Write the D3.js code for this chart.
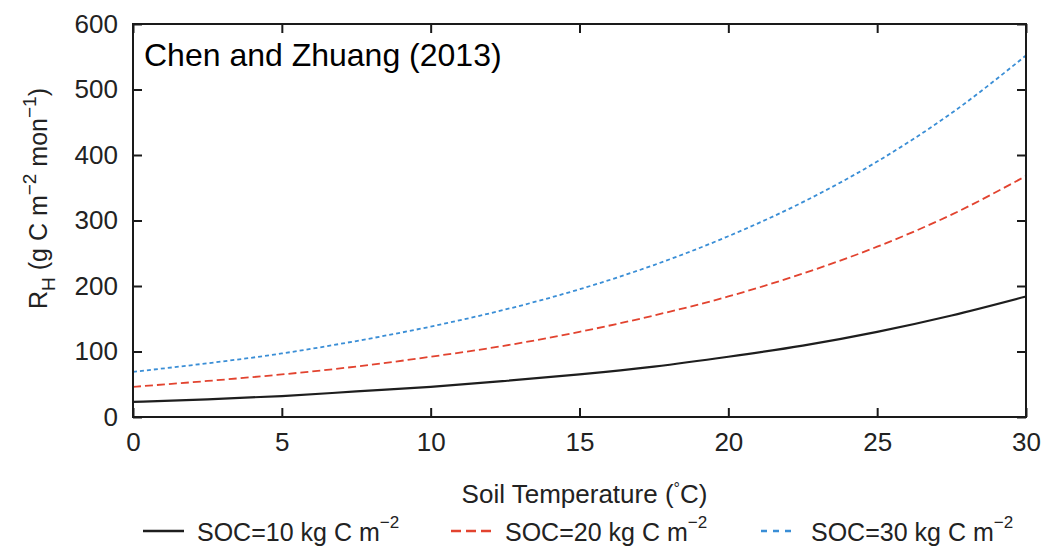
<!DOCTYPE html>
<html>
<head>
<meta charset="utf-8">
<script src="https://cdn.jsdelivr.net/npm/d3@7"></script>
<style>
  html, body { margin: 0; padding: 0; background: #fff; }
  svg { display: block; font-family: "Liberation Sans", Arial, Helvetica, sans-serif; }
</style>
</head>
<body>
<svg id="chart" width="1047" height="558"></svg>
<script>
// Soil temperature (°C) sample points
const temps = [0, 2.5, 5, 7.5, 10, 12.5, 15, 17.5, 20, 22.5, 25, 27.5, 30];
// Heterotrophic respiration R_H (g C m^-2 mon^-1) for three SOC levels
const soc10 = [23, 27, 32, 39, 46, 55, 65, 77, 92, 109, 130, 155, 184];
const soc20 = [46, 55, 65, 77, 92, 109, 130, 155, 184, 219, 260, 309, 368];
const soc30 = [69, 82, 97, 116, 138, 164, 195, 232, 276, 328, 390, 464, 552];
const seriesNames = ["SOC=10 kg C m", "SOC=20 kg C m", "SOC=30 kg C m"];
const xTicks = [0, 5, 10, 15, 20, 25, 30];
const yTicks = [0, 100, 200, 300, 400, 500, 600];

const series = [
  { name: seriesNames[0], values: soc10, color: "#1e1e1e", dash: null, width: 2.2, legendDash: null },
  { name: seriesNames[1], values: soc20, color: "#e2432f", dash: "8,4", width: 1.8, legendDash: "10,5" },
  { name: seriesNames[2], values: soc30, color: "#3a8ed6", dash: "4,3", width: 1.8, legendDash: "6,6" }
];

const svg = d3.select("#chart");
const plot = { left: 133, right: 1026, top: 24, bottom: 417 };

const x = d3.scaleLinear().domain([0, 30]).range([plot.left, plot.right]);
const y = d3.scaleLinear().domain([0, 600]).range([plot.bottom, plot.top]);

const axisColor = "#1a1a1a";
const tickLen = 9;

// Curves
const line = d3.line()
  .x((d, i) => x(temps[i]))
  .y(d => y(d))
  .curve(d3.curveMonotoneX);

svg.append("g").selectAll("path")
  .data(series)
  .join("path")
  .attr("d", s => line(s.values))
  .attr("fill", "none")
  .attr("stroke", s => s.color)
  .attr("stroke-width", s => s.width)
  .attr("stroke-dasharray", s => s.dash);

// Axes with inward ticks
function styleAxis(g) {
  g.select(".domain").remove();
  g.selectAll(".tick line").attr("stroke", axisColor).attr("stroke-width", 2);
  g.selectAll(".tick text").attr("fill", "#222").attr("font-size", 26)
    .attr("font-family", "'Liberation Sans', Arial, sans-serif");
}

svg.append("g")
  .attr("transform", `translate(0,${plot.bottom})`)
  .call(d3.axisBottom(x).tickValues(xTicks).tickSizeInner(-tickLen).tickSizeOuter(0).tickPadding(16))
  .call(styleAxis);

svg.append("g")
  .attr("transform", `translate(0,${plot.top})`)
  .call(d3.axisTop(x).tickValues(xTicks).tickSizeInner(-tickLen).tickSizeOuter(0).tickFormat(""))
  .call(styleAxis);

svg.append("g")
  .attr("transform", `translate(${plot.left},0)`)
  .call(d3.axisLeft(y).tickValues(yTicks).tickSizeInner(-tickLen).tickSizeOuter(0).tickPadding(15))
  .call(styleAxis);

svg.append("g")
  .attr("transform", `translate(${plot.right},0)`)
  .call(d3.axisRight(y).tickValues(yTicks).tickSizeInner(-tickLen).tickSizeOuter(0).tickFormat(""))
  .call(styleAxis);

// Frame
svg.append("rect")
  .attr("x", plot.left).attr("y", plot.top)
  .attr("width", plot.right - plot.left).attr("height", plot.bottom - plot.top)
  .attr("fill", "none").attr("stroke", axisColor).attr("stroke-width", 2);

// Annotation
svg.append("text")
  .attr("x", 144).attr("y", 66)
  .attr("font-size", 32).attr("fill", "#000")
  .text("Chen and Zhuang (2013)");

// X axis title
const xt = svg.append("text")
  .attr("x", (plot.left + plot.right) / 2 + 5).attr("y", 503)
  .attr("text-anchor", "middle").attr("font-size", 26).attr("fill", "#222");
xt.append("tspan").text("Soil Temperature (");
xt.append("tspan").attr("font-size", 16).attr("dy", -9).text("°");
xt.append("tspan").attr("dy", 9).text("C)");

// Y axis title
const yt = svg.append("text")
  .attr("transform", `translate(47,${(plot.top + plot.bottom) / 2 - 22}) rotate(-90)`)
  .attr("text-anchor", "middle").attr("font-size", 25).attr("fill", "#222");
yt.append("tspan").text("R");
yt.append("tspan").attr("font-size", 19).attr("dy", 8).text("H");
yt.append("tspan").attr("dy", -8).text(" (g C m");
yt.append("tspan").attr("font-size", 19).attr("dy", -11).text("−2");
yt.append("tspan").attr("dy", 11).text(" mon");
yt.append("tspan").attr("font-size", 19).attr("dy", -11).text("−1");
yt.append("tspan").attr("dy", 11).text(")");

// Legend
const legendX = [143, 451, 761];
const legendLen = [41, 40, 30];
const legendTextX = [197, 505, 811];
const legendY = 531;

const lg = svg.append("g").selectAll("g")
  .data(series)
  .join("g");

lg.append("line")
  .attr("x1", (d, i) => legendX[i])
  .attr("x2", (d, i) => legendX[i] + legendLen[i])
  .attr("y1", legendY).attr("y2", legendY)
  .attr("stroke", d => d.color)
  .attr("stroke-width", 2.5)
  .attr("stroke-dasharray", d => d.legendDash);

const lt = lg.append("text")
  .attr("x", (d, i) => legendTextX[i])
  .attr("y", legendY + 10)
  .attr("font-size", 25)
  .attr("fill", "#222");
lt.append("tspan").text(d => d.name);
lt.append("tspan").attr("font-size", 17).attr("dy", -13).text("−2");
</script>
</body>
</html>
